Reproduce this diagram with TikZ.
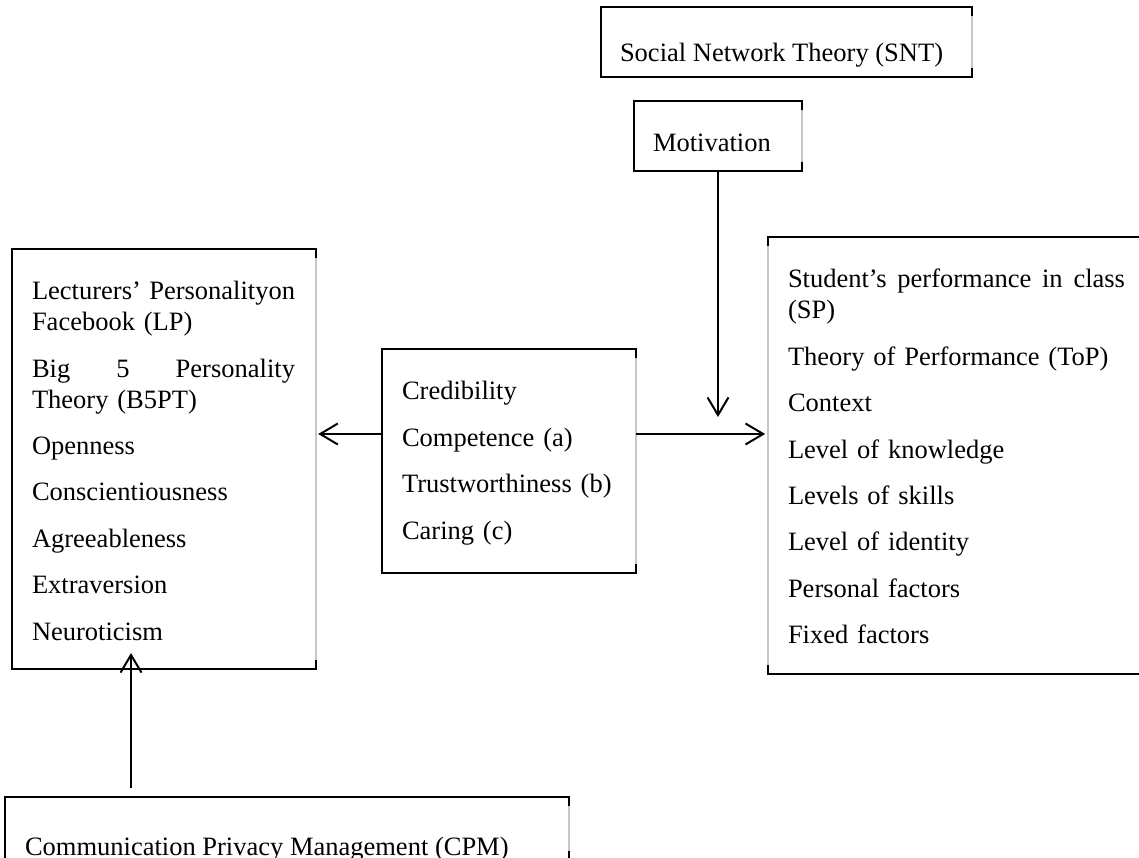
\documentclass[tikz,border=0pt]{standalone}
\usepackage{fontspec}
\setmainfont{Liberation Serif}
\usetikzlibrary{arrows.meta}
\newdimen\pxu
\pxu=0.4528pt

\begin{document}
\begin{tikzpicture}
            [
            x = 0.4528pt, y = -0.4528pt,
            every node/.style = {inner sep = 0, outer sep = 0},
            link/.style = {line width = 0.9pt, -{Straight Barb[length = 8pt, width = 9.5pt, line width = 0.9pt]}},
            ]
            \tikzstyle{box node}=[rectangle,draw,line width=0.5pt,anchor=north west]
            \tikzstyle{text node}=[anchor=base west,align=left,font=\fontsize{12}{14}\selectfont]
            \tikzstyle{faint side}=[draw=black!22,line width=0.8pt]

            \useasboundingbox (0,0) rectangle (1139,858);
            \clip (0,0) rectangle (1139,858);

            \node[box node,minimum width=371\pxu,minimum height=70\pxu] (snt) at (601,7) {};
            \node[text node] (snt text) at (620,62) {Social Network Theory (SNT)};

            \node[box node,minimum width=168\pxu,minimum height=70\pxu] (motivation) at (634,101) {};
            \node[text node] (motivation text) at (653,152) {Motivation};

            \node[box node,minimum width=304\pxu,minimum height=420\pxu] (lp) at (12,249) {};
            \node[text node,text width=263\pxu] (lp text) at (32,300)
                {Lecturers'\hfill Personalityon\\Facebook (LP)\\[7pt]
                 Big\hfill 5\hfill Personality\\Theory (B5PT)\\[7pt]
                 Openness\\[7pt]
                 Conscientiousness\\[7pt]
                 Agreeableness\\[7pt]
                 Extraversion\\[7pt]
                 Neuroticism};

            \node[box node,minimum width=254\pxu,minimum height=224\pxu] (cred) at (382,349) {};
            \node[text node,text width=225\pxu] (cred text) at (402,400)
                {Credibility\\[7pt]
                 Competence (a)\\[7pt]
                 Trustworthiness (b)\\[7pt]
                 Caring (c)};

            \node[box node,minimum width=400\pxu,minimum height=437\pxu] (sp) at (768,237) {};
            \node[text node,text width=337\pxu] (sp text) at (788,288)
                {Student's\hfill performance\hfill in\hfill class\\(SP)\\[7pt]
                 Theory of Performance (ToP)\\[7pt]
                 Context\\[7pt]
                 Level of knowledge\\[7pt]
                 Levels of skills\\[7pt]
                 Level of identity\\[7pt]
                 Personal factors\\[7pt]
                 Fixed factors};

            \node[box node,minimum width=564\pxu,minimum height=63\pxu] (cpm) at (5,797) {};
            \node[text node] (cpm text) at (25,856) {Communication Privacy Management (CPM)};

            \draw[faint side] ([yshift=-4pt]snt.north east) -- ([yshift=4pt]snt.south east);
            \draw[faint side] ([yshift=-4pt]motivation.north east) -- ([yshift=4pt]motivation.south east);
            \draw[faint side] ([yshift=-4pt]lp.north east) -- ([yshift=4pt]lp.south east);
            \draw[faint side] ([yshift=-4pt]cred.north east) -- ([yshift=4pt]cred.south east);
            \draw[faint side] ([yshift=-4pt]sp.north west) -- ([yshift=4pt]sp.south west);
            \draw[faint side] ([yshift=-4pt]cpm.north east) -- ([yshift=4pt]cpm.south east);

            \coordinate (arrow row) at (0,434);
            \coordinate (motivation tip) at (718,417);
            \coordinate (cpm tip) at (131,653);

            \draw[link,shorten >=1pt] (cred.west |- arrow row) -- (lp.east |- arrow row);
            \draw[link,shorten >=1.3pt] (cred.east |- arrow row) -- (sp.west |- arrow row);
            \draw[link] (motivation.south) -- (motivation tip);
            \draw[link,shorten <=4pt] (cpm.north -| cpm tip) -- (cpm tip);
\end{tikzpicture}
\end{document}
